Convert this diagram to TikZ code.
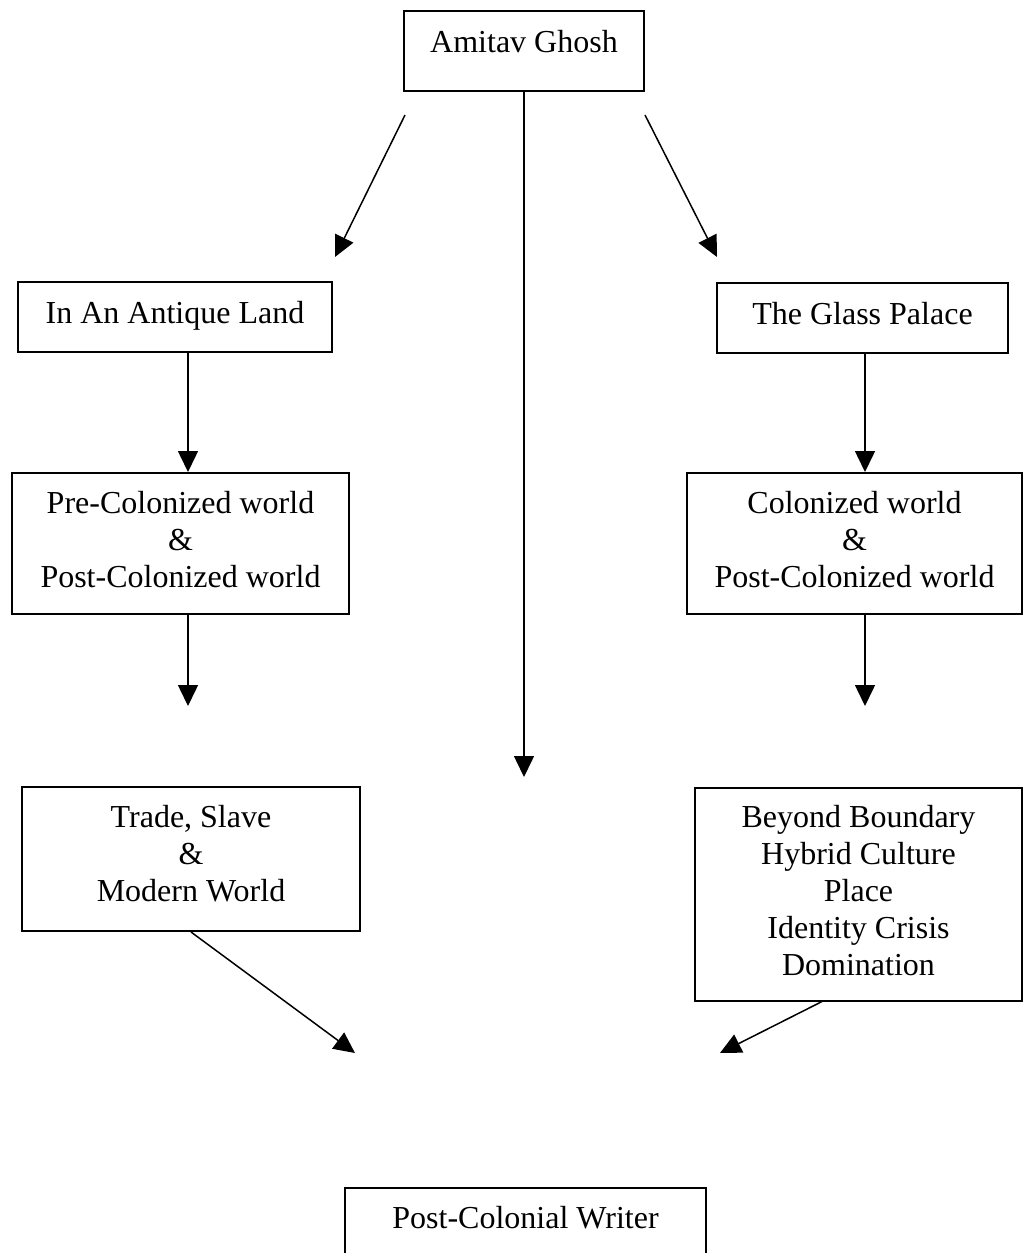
\documentclass[tikz,border=0pt]{standalone}
\usepackage{fontspec}
\setmainfont{Liberation Serif}
\usetikzlibrary{arrows.meta}
\newcommand{\boxlines}[1]{\begin{tabular}[t]{@{}c@{}}#1\end{tabular}}

\begin{document}
\begin{tikzpicture}[x=0.5pt,y=-0.5pt,line width=0.75pt,
            >={Triangle[length=10.5pt,width=10pt]},
            box/.style={draw,line width=1pt,inner sep=0pt,anchor=base,
                text height=20pt,font=\fontsize{16}{18.5}\selectfont}]

        \useasboundingbox (0,0) rectangle (1023,1253);
        \clip (0,0) rectangle (1023,1253);

        % Define boxes
        \node[box,minimum width=120pt,text height=20.5pt,text depth=19.5pt] (ghosh) at (524,52) {Amitav Ghosh};
        \node[box,minimum width=157pt,text height=20.5pt,text depth=14.5pt] (land) at (175,323) {In An Antique Land};
        \node[box,minimum width=145.5pt,text height=20.5pt,text depth=14.5pt] (palace) at (862.5,324) {The Glass Palace};
        \node[box,minimum width=168.5pt,text depth=50.5pt] (pre) at (180.5,513)
            {\boxlines{Pre-Colonized world\\ \&\\ Post-Colonized world}};
        \node[box,minimum width=167.5pt,text depth=50.5pt] (col) at (854.5,513)
            {\boxlines{Colonized world\\ \&\\ Post-Colonized world}};
        \node[box,minimum width=169pt,text depth=52pt] (trade) at (191,827)
            {\boxlines{Trade, Slave\\ \&\\ Modern World}};
        \node[box,minimum width=163.5pt,text height=19.5pt,text depth=87pt] (beyond) at (858.5,827)
            {\boxlines{Beyond Boundary\\ Hybrid Culture\\ Place\\ Identity Crisis\\ Domination}};
        \node[box,minimum width=180.5pt,text depth=36pt] (writer) at (525.5,1228) {Post-Colonial Writer};

        % Free arrow ends
        \coordinate (lt) at (405,115);
        \coordinate (lh) at (335,257);
        \coordinate (rt) at (645,115);
        \coordinate (rh) at (717,257);
        \coordinate (mh) at (524,777);
        \coordinate (a1) at (188,472);
        \coordinate (a2) at (865,472);
        \coordinate (a3) at (188,706);
        \coordinate (a4) at (865,706);
        \coordinate (bt) at (823,1001);
        \coordinate (th) at (355,1053);
        \coordinate (bh) at (720,1053);

        % Draw arrows
        \path[->]
            (lt) edge (lh)
            (rt) edge (rh)
            (ghosh.south) edge (mh)
            (land.south -| a1) edge (a1)
            (palace.south -| a2) edge (a2)
            (pre.south -| a3) edge (a3)
            (col.south -| a4) edge (a4)
            (trade.south) edge (th)
            (bt) edge (bh);

        \end{tikzpicture}
\end{document}
